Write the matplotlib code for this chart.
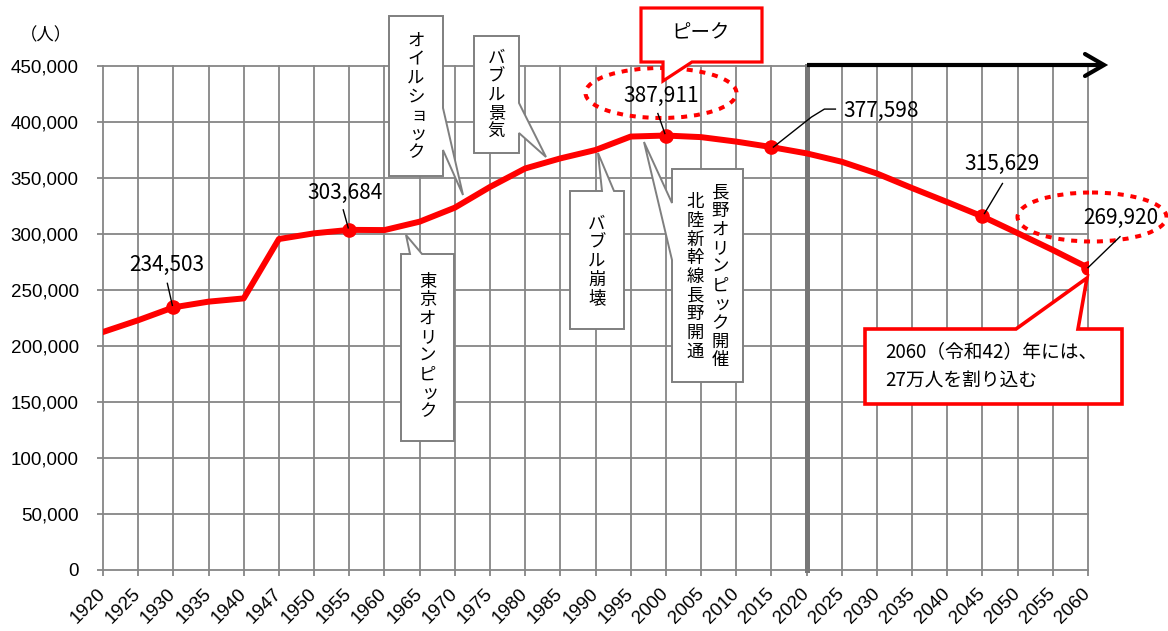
import matplotlib
matplotlib.use("Agg")
import matplotlib.pyplot as plt
from matplotlib.patches import Polygon, Ellipse
from matplotlib.ticker import FuncFormatter

YEARS = ["1920", "1925", "1930", "1935", "1940", "1947", "1950", "1955", "1960",
         "1965", "1970", "1975", "1980", "1985", "1990", "1995", "2000", "2005",
         "2010", "2015", "2020", "2025", "2030", "2035", "2040", "2045", "2050",
         "2055", "2060"]
POPULATION = [212500, 223000, 234503, 239600, 242500, 295500, 300600, 303684, 303500,
              311000, 323500, 342000, 358500, 367500, 375000, 387000, 387911, 386500,
              382500, 377598, 372000, 364500, 354000, 341000, 328500, 315629, 300800,
              285700, 269920]
LABELED_YEARS = ["1930", "1955", "2000", "2015", "2045", "2060"]
FORECAST_START = "2020"

W, H = 1168, 631
RED = "#ff0000"
GRID = "#868686"
BOX = "#7f7f7f"
JP = ["Noto Sans CJK JP", "DejaVu Sans"]

fig = plt.figure(figsize=(W / 100, H / 100), dpi=100)
ax = fig.add_axes([103 / W, 61 / H, 985 / W, 504 / H])

xs = list(range(len(YEARS)))
ax.plot(xs, POPULATION, color=RED, lw=4.3, solid_joinstyle="round", zorder=4)
marked = [YEARS.index(y) for y in LABELED_YEARS]
ax.plot(marked, [POPULATION[i] for i in marked], "o", color=RED, ms=9.5, zorder=5)

ax.set_xlim(0, len(YEARS) - 1)
ax.set_ylim(0, 450000)
ax.set_xticks(xs)
ax.set_xticklabels(YEARS, rotation=45, ha="right", va="center", rotation_mode="anchor",
                   family="Liberation Sans", fontsize=13.5)
ax.set_yticks(range(0, 450001, 50000))
ax.yaxis.set_major_formatter(FuncFormatter(lambda v, p: f"{int(v):,}"))
for lab in ax.get_yticklabels():
  lab.set_family("Liberation Sans")
  lab.set_fontsize(13.5)
ax.grid(True, color=GRID, lw=1.3, zorder=1)
for l in ax.get_xgridlines() + ax.get_ygridlines():
  l.set_clip_on(False)
for s in ax.spines.values():
  s.set_visible(False)
ax.tick_params(color=GRID, width=1.3, length=4.5)
ax.tick_params(axis="y", pad=13)
ax.tick_params(axis="x", pad=11)
ax.axvline(YEARS.index(FORECAST_START), color="#777777", lw=3.6, zorder=2, clip_on=False)


def to_px(i, v):
  dx, dy = ax.transData.transform((i, v))
  return dx, H - dy


# overlay in reference pixel units for the annotations
ov = fig.add_axes([0, 0, 1, 1], zorder=5)
ov.set_xlim(0, W)
ov.set_ylim(H, 0)
ov.axis("off")
ov.patch.set_visible(False)

ov.text(46, 35, "（人）", ha="center", va="center", fontsize=12.5, family=JP)

# data labels with leader lines (offsets in px from the point)
labels = {
  "1930": ((-7, -42), [(-6, -24), (-1, -2)], "center"),
  "1955": ((-4, -37), [(-6, -20), (-1, -2)], "center"),
  "2000": ((-5, -40), [(-8, -22), (-1, -2)], "center"),
  "2015": ((72, -36), [(2, 0), (40, -30), (53, -38), (64, -38)], "left"),
  "2045": ((20, -53), [(20, -33), (2, -3)], "center"),
  "2060": ((33, -50), [(32, -31), (0, 0)], "center"),
}
for yr, (toff, line, ha) in labels.items():
  i = YEARS.index(yr)
  px, py = to_px(i, POPULATION[i])
  ov.plot([px + a for a, b in line], [py + b for a, b in line], color="black", lw=1.0)
  ov.text(px + toff[0], py + toff[1], f"{POPULATION[i]:,}", ha=ha, va="center",
          fontsize=15, family=JP)

# red dotted ellipses
for c, w, h in [((661, 93), 151, 50), ((1092, 217), 149, 49)]:
  ov.add_patch(Ellipse(c, w, h, fill=False, ec=RED, lw=2.9, ls=(0, (1.5, 1.7))))


def callout(pts, edge, lw):
  ov.add_patch(Polygon(pts, closed=True, fc="white", ec=edge, lw=lw,
                       joinstyle="miter", zorder=2))


SMALL = set("ッョャュィァ")


def vtext(xc, y0, text, step=18.5, size=12.5):
  for k, ch in enumerate(text):
    dx = 3 if ch in SMALL else 0
    ov.text(xc + dx, y0 + k * step, ch, ha="center", va="center",
            fontsize=size, family=JP, zorder=3)


# gray speech bubbles
callout([(389, 16), (443, 16), (443, 108), (463, 195), (443, 150), (443, 176), (389, 176)], BOX, 1.4)
vtext(416, 41, "オイルショック")
callout([(474, 36), (519, 36), (519, 103), (546, 157), (519, 133), (519, 153), (474, 153)], BOX, 1.4)
vtext(496.5, 58, "バブル景気")
callout([(401, 254), (410, 254), (406, 235), (422, 254), (454, 254), (454, 441), (401, 441)], BOX, 1.4)
vtext(427.5, 282, "東京オリンピック")
callout([(570, 191), (602, 191), (598, 153), (614, 191), (624, 191), (624, 329), (570, 329)], BOX, 1.4)
vtext(597, 224, "バブル崩壊")
callout([(672, 169), (743, 169), (743, 382), (672, 382), (672, 260), (644, 142), (672, 203)], BOX, 1.4)
vtext(720, 192, "長野オリンピック開催", step=18.7)
vtext(695, 202, "北陸新幹線長野開通", step=18.75)

# red callouts
callout([(641, 8), (762, 8), (762, 62), (692, 62), (663, 81), (663, 62), (641, 62)], RED, 2.3)
ov.text(701, 33, "ピーク", ha="center", va="center", fontsize=14, family=JP, zorder=3)
callout([(865, 329), (1016, 329), (1087, 278), (1078, 329), (1122, 329), (1122, 404), (865, 404)], RED, 2.6)
ov.text(885, 352, "2060（令和42）年には、", ha="left", va="center", fontsize=13.5, family=JP, zorder=3)
ov.text(885, 381, "27万人を割り込む", ha="left", va="center", fontsize=13.5, family=JP, zorder=3)

# forecast arrow
ax0, ay0 = to_px(YEARS.index(FORECAST_START), 450000)
ov.plot([ax0, 1102], [ay0 - 1, ay0 - 1], color="black", lw=3, solid_capstyle="butt")
ov.plot([1085, 1104, 1085], [ay0 - 12, ay0 - 1, ay0 + 10], color="black", lw=3,
        solid_joinstyle="miter", solid_capstyle="round")

fig.savefig("out.png", dpi=100)
